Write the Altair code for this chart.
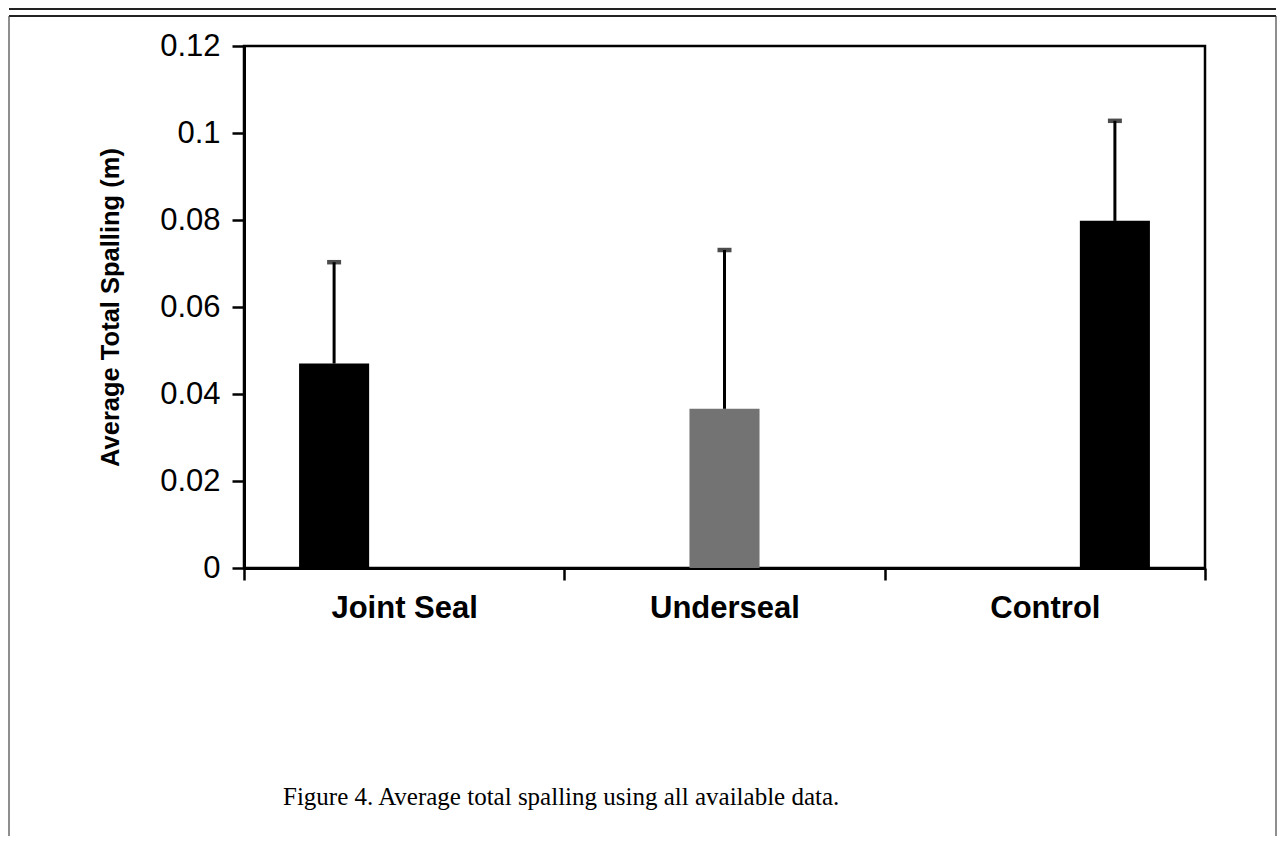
import altair as alt
import pandas as pd

# ---- data ----
categories = ["Joint Seal", "Underseal", "Control"]
means = [0.047, 0.0366, 0.0798]
upper = [0.0703, 0.0731, 0.1028]
bar_colors = ["#000000", "#737373", "#000000"]
y_ticks = [0, 0.02, 0.04, 0.06, 0.08, 0.1, 0.12]
y_title = "Average Total Spalling (m)"
caption = "Figure 4. Average total spalling using all available data."

df = pd.DataFrame({"cat": categories, "series": categories,
                   "mean": means, "upper": upper})

W, H = 961, 522
SANS = "Liberation Sans"

x_enc = alt.X("cat:N", sort=categories,
              scale=alt.Scale(domain=categories, paddingInner=0, paddingOuter=0),
              axis=alt.Axis(title=None, labelAngle=0, labelFont=SANS,
                            labelFontWeight="bold", labelFontSize=31,
                            labelColor="black", tickBand="extent",
                            tickSize=12, tickWidth=2.5, tickColor="black",
                            domainColor="black", domainWidth=3,
                            labelPadding=13, grid=False))
xo_enc = alt.XOffset("series:N", sort=categories,
                     scale=alt.Scale(domain=categories, paddingInner=0,
                                     paddingOuter=0.786))
y_scale = alt.Scale(domain=[0, 0.12], nice=False, zero=True)
y_enc = alt.Y("mean:Q", scale=y_scale,
              axis=alt.Axis(values=y_ticks, format=".2~f", title=y_title,
                            titleFont=SANS, titleFontSize=25.5,
                            titleFontWeight="bold", titleColor="black",
                            titlePadding=36, labelFont=SANS, labelFontSize=31,
                            labelColor="black", labelPadding=12,
                            tickSize=12, tickWidth=2.5, tickColor="black",
                            domainColor="black", domainWidth=3, grid=False))

base = alt.Chart(df)

bars = base.mark_bar().encode(
    x=x_enc, xOffset=xo_enc, y=y_enc,
    color=alt.Color("series:N", scale=alt.Scale(domain=categories, range=bar_colors),
                    legend=None),
)

err = base.mark_rule(color="black", strokeWidth=3).encode(
    x=x_enc, xOffset=xo_enc, y=alt.Y("mean:Q", scale=y_scale), y2="upper:Q"
)

caps = base.mark_tick(color="black", size=14, thickness=4.5).encode(
    x=x_enc, xOffset=xo_enc, y=alt.Y("upper:Q", scale=y_scale)
)

deco = alt.Chart(pd.DataFrame({"d": [0]}))
frame_top1 = deco.mark_rule(color="#222", strokeWidth=2).encode(
    x=alt.value(-235), x2=alt.value(1032), y=alt.value(-37))
frame_top2 = deco.mark_rule(color="#222", strokeWidth=2).encode(
    x=alt.value(-235), x2=alt.value(1032), y=alt.value(-30))
frame_left = deco.mark_rule(color="#444", strokeWidth=1.2).encode(
    x=alt.value(-235), y=alt.value(-30), y2=alt.value(790))
frame_right = deco.mark_rule(color="#444", strokeWidth=1.2).encode(
    x=alt.value(1032), y=alt.value(-30), y2=alt.value(790))

cap_text = deco.mark_text(font="Liberation Serif", fontSize=25, align="left",
                          baseline="alphabetic", color="black").encode(
    x=alt.value(39), y=alt.value(759), text=alt.value(caption))

chart = alt.layer(bars, err, caps, frame_top1, frame_top2, frame_left,
                  frame_right, cap_text).properties(
    width=W, height=H, padding=0, background="white"
).configure_view(stroke="black", strokeWidth=2.5)

chart.save("out.html", embed_options={"renderer": "svg", "actions": False})
